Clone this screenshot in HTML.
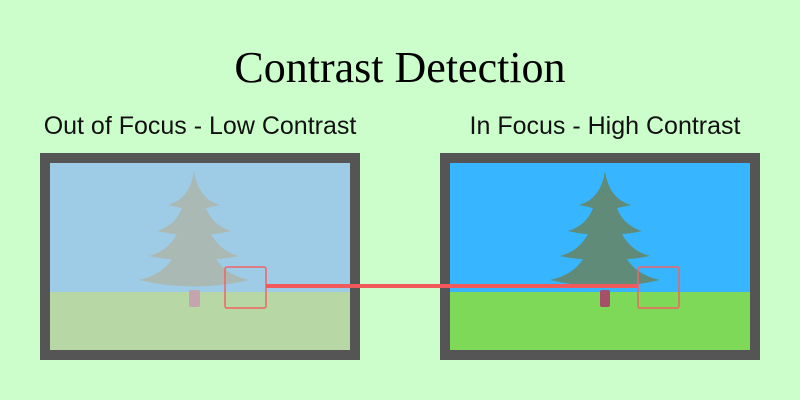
<!DOCTYPE html>
<html><head><meta charset="utf-8"><style>
html,body{margin:0;padding:0;background:#ccfecc;overflow:hidden;width:800px;height:400px;}
svg{display:block;}
</style></head><body>
<svg width="800" height="400" xmlns="http://www.w3.org/2000/svg">
<defs>
<path id="tree" d="M0,0 Q-4,28 -26,34 Q-16,36 -12,37 Q-18,54 -37,60 Q-24,63 -17,63 Q-26,80 -45,85 Q-30,88 -22,88 Q-32,104 -55,109 Q0,122 55,109 Q32,104 22,88 Q30,88 45,85 Q26,80 17,63 Q24,63 37,60 Q18,54 12,37 Q16,36 26,34 Q4,28 0,0 Z"/>
</defs>
<rect width="800" height="400" fill="#ccfecc"/>
<text x="400" y="82" font-family="Liberation Serif, serif" font-size="44" text-anchor="middle" fill="#000">Contrast Detection</text>
<text x="200" y="134" font-family="Liberation Sans, sans-serif" font-size="25" text-anchor="middle" fill="#111">Out of Focus - Low Contrast</text>
<text x="605" y="134" font-family="Liberation Sans, sans-serif" font-size="25" text-anchor="middle" fill="#111">In Focus - High Contrast</text>

<rect x="40" y="153" width="320" height="207" fill="#555"/>
<rect x="50" y="163" width="300" height="129" fill="#9ecbe5"/>
<rect x="50" y="292" width="300" height="58" fill="#b7d7a5"/>
<rect x="189" y="290" width="11" height="17" rx="2" fill="#c4a4ae"/>
<use href="#tree" x="194" y="171" fill="#aab9b3"/>

<rect x="440" y="153" width="320" height="207" fill="#555"/>
<rect x="450" y="163" width="300" height="129" fill="#37b5ff"/>
<rect x="450" y="292" width="300" height="58" fill="#7dd957"/>
<rect x="600" y="290" width="10" height="17" rx="2" fill="#a35068"/>
<use href="#tree" x="605" y="171" fill="#5f8b78"/>

<rect x="225" y="267" width="41" height="41" rx="2" fill="none" stroke="#f06464" stroke-width="1.5"/>
<rect x="638" y="267" width="41" height="41" rx="2" fill="none" stroke="#f06464" stroke-width="1.5"/>
<line x1="266" y1="286" x2="638" y2="286" stroke="#f05a5a" stroke-width="4"/>
</svg>
</body></html>
